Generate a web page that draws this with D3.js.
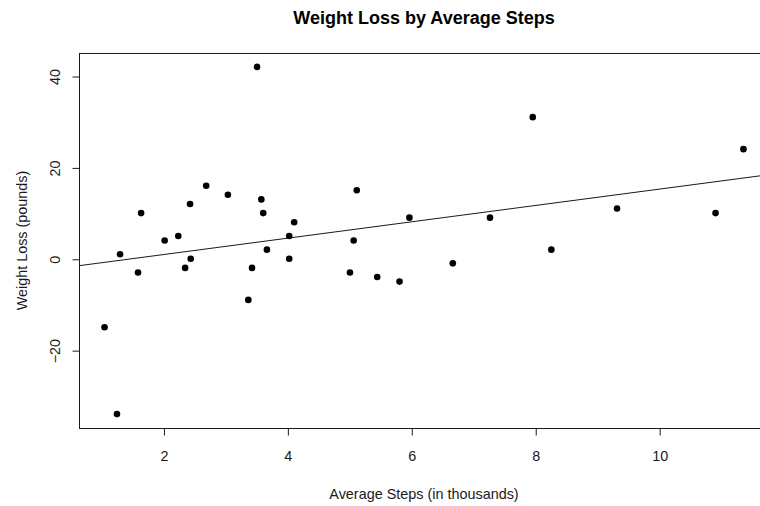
<!DOCTYPE html>
<html>
<head>
<meta charset="utf-8">
<script src="https://cdn.jsdelivr.net/npm/d3@7"></script>
<style>
  body { margin: 0; background: #fff; }
  svg { display: block; font-family: 'Liberation Sans', Arial, sans-serif; }
</style>
</head>
<body>
<svg id="drawing_region"></svg>
<script>
// average steps (thousands) and weight loss (pounds)
const steps = [1.05, 1.25, 1.30, 1.59, 1.64, 2.02, 2.24, 2.35, 2.43, 2.44,
               2.69, 3.04, 3.37, 3.43, 3.51, 3.58, 3.61, 3.67, 4.03, 4.03,
               4.11, 5.01, 5.07, 5.12, 5.45, 5.81, 5.97, 6.67, 7.27, 7.96,
               8.26, 9.32, 10.91, 11.36];
const loss  = [-15, -34, 1, -3, 10, 4, 5, -2, 12, 0,
               16, 14, -9, -2, 42, 13, 10, 2, 5, 0,
               8, -3, 4, 15, -4, -5, 9, -1, 9, 31,
               2, 11, 10, 24];
const xTicks = [2, 4, 6, 8, 10];
const yTicks = [-20, 0, 20, 40];
// fitted line (intercept, slope)
const fit = { a: -2.66, b: 1.79 };

const width = 760, height = 506;
const margin = { top: 53, left: 79, bottom: 78, right: -9 };

const svg = d3.select('#drawing_region')
    .attr('width', width)
    .attr('height', height);

const data = steps.map((s, i) => ({ x: s, y: loss[i] }));

// R style 4% padding around the data range
const xr = d3.extent(steps), yr = d3.extent(loss);
const xpad = (xr[1] - xr[0]) * 0.04, ypad = (yr[1] - yr[0]) * 0.04;

const xscale = d3.scaleLinear()
    .domain([xr[0] - xpad, xr[1] + xpad])
    .range([margin.left, width - margin.right]);
const yscale = d3.scaleLinear()
    .domain([yr[0] - ypad, yr[1] + ypad])
    .range([height - margin.bottom, margin.top]);

const ink = '#1a1a1a';
const font = "'Liberation Sans', Arial, sans-serif";

// regression line, clipped to the plot box
svg.append('clipPath').attr('id', 'clip')
    .append('rect')
    .attr('x', xscale.range()[0]).attr('y', yscale.range()[1])
    .attr('width', xscale.range()[1] - xscale.range()[0])
    .attr('height', yscale.range()[0] - yscale.range()[1]);

const [x0, x1] = xscale.domain();
svg.append('line')
    .attr('clip-path', 'url(#clip)')
    .attr('x1', xscale(x0)).attr('y1', yscale(fit.a + fit.b * x0))
    .attr('x2', xscale(x1)).attr('y2', yscale(fit.a + fit.b * x1))
    .attr('stroke', ink)
    .attr('stroke-width', 1);

// points
svg.append('g').selectAll('circle')
    .data(data)
    .join('circle')
    .attr('cx', d => xscale(d.x))
    .attr('cy', d => yscale(d.y))
    .attr('r', 3.3)
    .attr('fill', '#000');

// box
svg.append('rect')
    .attr('x', xscale.range()[0] + 0.5)
    .attr('y', yscale.range()[1] + 0.5)
    .attr('width', xscale.range()[1] - xscale.range()[0])
    .attr('height', yscale.range()[0] - yscale.range()[1])
    .attr('fill', 'none')
    .attr('stroke', ink)
    .attr('stroke-width', 1);

// axes
const xaxis = d3.axisBottom(xscale)
    .tickValues(xTicks)
    .tickSize(7)
    .tickPadding(15)
    .tickSizeOuter(0);
const xg = svg.append('g')
    .attr('transform', `translate(0.5, ${yscale.range()[0] + 0.5})`)
    .call(xaxis);
xg.select('.domain').remove();
xg.selectAll('line').attr('stroke', ink);
xg.selectAll('text')
    .attr('fill', ink)
    .style('font-size', '14.4px')
    .style('font-family', font);

const yaxis = d3.axisLeft(yscale)
    .tickValues(yTicks)
    .tickSize(7)
    .tickSizeOuter(0);
const yg = svg.append('g')
    .attr('transform', `translate(${xscale.range()[0] + 0.5}, 0.5)`)
    .call(yaxis);
yg.select('.domain').remove();
yg.selectAll('line').attr('stroke', ink);
yg.selectAll('text')
    .attr('fill', ink)
    .attr('x', null).attr('dy', null)
    .attr('text-anchor', 'middle')
    .attr('transform', 'translate(-19.5, 0) rotate(-90)')
    .style('font-size', '14.4px')
    .style('font-family', font);

// titles
const cx = (xscale.range()[0] + xscale.range()[1]) / 2;
const cy = (yscale.range()[0] + yscale.range()[1]) / 2;

svg.append('text')
    .attr('x', cx).attr('y', 24)
    .attr('text-anchor', 'middle')
    .style('font-size', '18px')
    .style('font-weight', 'bold')
    .attr('fill', '#000')
    .text('Weight Loss by Average Steps');

svg.append('text')
    .attr('x', cx).attr('y', 499)
    .attr('text-anchor', 'middle')
    .style('font-size', '14.4px')
    .attr('fill', ink)
    .text('Average Steps (in thousands)');

svg.append('text')
    .attr('transform', `translate(27, ${cy}) rotate(-90)`)
    .attr('text-anchor', 'middle')
    .style('font-size', '14.4px')
    .attr('fill', ink)
    .text('Weight Loss (pounds)');
</script>
</body>
</html>
